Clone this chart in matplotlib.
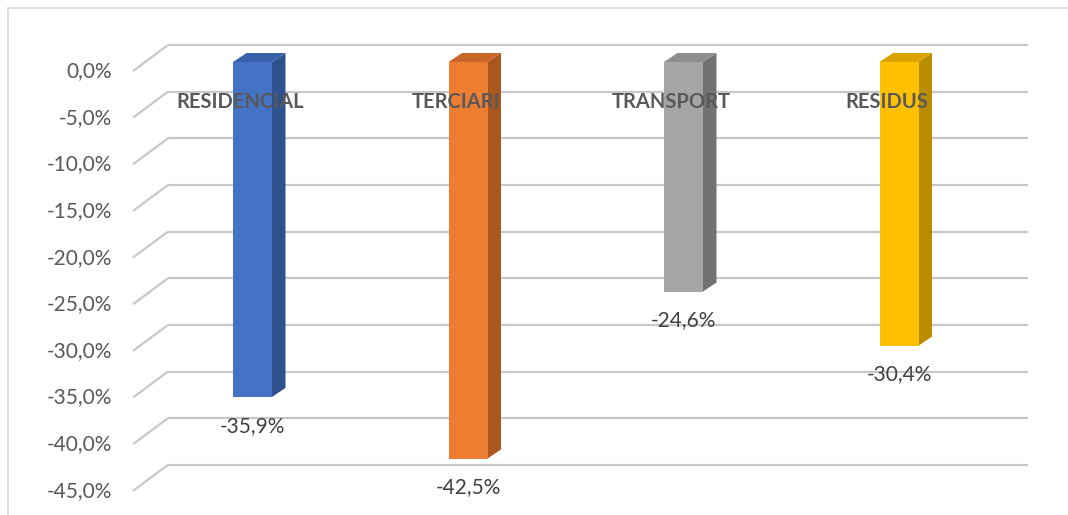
import matplotlib.pyplot as plt
from matplotlib.patches import Rectangle, Polygon

categories = ['RESIDENCIAL', 'TERCIARI', 'TRANSPORT', 'RESIDUS']
values = [-35.9, -42.5, -24.6, -30.4]
ticks = [0, -5, -10, -15, -20, -25, -30, -35, -40, -45]
tick_labels = ['0,0%', '-5,0%', '-10,0%', '-15,0%', '-20,0%', '-25,0%',
               '-30,0%', '-35,0%', '-40,0%', '-45,0%']

front_colors = ['#4472C4', '#ED7D31', '#A5A5A5', '#FFC000']
side_colors = ['#2F528F', '#A9571F', '#727272', '#BA8C00']
top_colors = ['#3A62AC', '#C9672A', '#8E8E8E', '#D9A300']

plt.rcParams['font.family'] = ['Lato', 'DejaVu Sans']

W, H = 1068, 515
fig = plt.figure(figsize=(W / 100, H / 100), dpi=100)
ax = fig.add_axes([0, 0, 1, 1])

# pixel layout of the excel pseudo-3d chart
px_per_cat = 215.5
x0_px = 252.5
px_per_pct = 9.33
y0_px = 62
ax.set_xlim(-x0_px / px_per_cat, (W - x0_px) / px_per_cat)
ax.set_ylim((y0_px - H) / px_per_pct, y0_px / px_per_pct)
ax.axis('off')


def px_x(p):
    return (p - x0_px) / px_per_cat


bar_w = 39 / px_per_cat
dx = 13.5 / px_per_cat
dy = 9 / px_per_pct
back_dy = 17 / px_per_pct
diag_dy = 26 / px_per_pct

# chart border
fig.patches.append(Rectangle((8 / W, -0.1), 1.2, 1 - 8 / H + 0.1,
                             transform=fig.transFigure, fill=False,
                             edgecolor='#D9D9D9', lw=1.2))

# gridlines on back wall + side wall perspective
for t, lab in zip(ticks, tick_labels):
    yb = t + back_dy
    ax.plot([px_x(168), px_x(1028)], [yb, yb], color='#C8C8C8', lw=1.6,
            solid_capstyle='butt', zorder=1)
    ax.plot([px_x(133), px_x(168)], [yb - diag_dy, yb], color='#C8C8C8',
            lw=1.6, solid_capstyle='butt', zorder=1)
    ax.text(px_x(112), yb - diag_dy, lab, ha='right', va='center',
            fontsize=15, color='#595959')

for i, (cat, v) in enumerate(zip(categories, values)):
    left = i - bar_w / 2
    right = i + bar_w / 2
    ax.add_patch(Polygon([(right, 0), (right + dx, dy), (right + dx, v + dy), (right, v)],
                         closed=True, facecolor=side_colors[i], edgecolor='none', zorder=3))
    ax.add_patch(Polygon([(left, 0), (right, 0), (right + dx, dy), (left + dx, dy)],
                         closed=True, facecolor=top_colors[i], edgecolor='none', zorder=3))
    ax.add_patch(Rectangle((left, 0), bar_w, v, facecolor=front_colors[i],
                           edgecolor='none', zorder=4))
    ax.text(i - 0.056, -4.29, cat, ha='center', va='center', fontsize=14.5,
            fontweight='bold', color='#595959', zorder=6)
    ax.text(i, v - 3.1, f'{v:.1f}%'.replace('.', ','), ha='center', va='center',
            fontsize=15, color='#404040', zorder=6)

fig.savefig('out.png', dpi=100)
